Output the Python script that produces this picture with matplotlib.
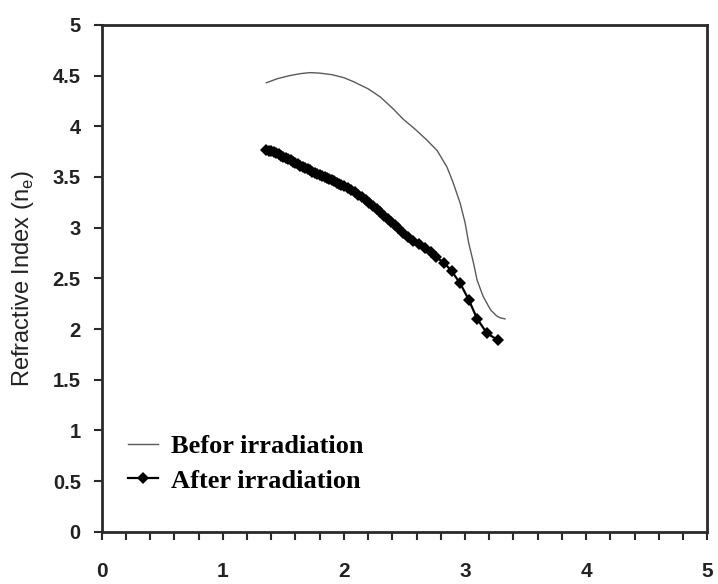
import matplotlib
matplotlib.use("Agg")
import matplotlib.pyplot as plt
from matplotlib.ticker import MultipleLocator

before_x = [1.36, 1.45, 1.55, 1.64, 1.72, 1.80, 1.90, 2.00, 2.08, 2.20, 2.30, 2.40, 2.49,
            2.58, 2.68, 2.77, 2.85, 2.90, 2.96, 3.00, 3.03, 3.07, 3.10, 3.15, 3.21, 3.26,
            3.29, 3.33]
before_y = [4.43, 4.47, 4.50, 4.52, 4.53, 4.525, 4.51, 4.48, 4.44, 4.37, 4.29, 4.18, 4.07,
            3.98, 3.87, 3.76, 3.60, 3.45, 3.24, 3.05, 2.85, 2.65, 2.48, 2.32, 2.19, 2.13,
            2.11, 2.10]

after_x = [1.36, 1.38, 1.40, 1.42, 1.44, 1.46, 1.48, 1.50, 1.52, 1.54, 1.56, 1.58, 1.60,
           1.62, 1.64, 1.66, 1.68, 1.70, 1.72, 1.74, 1.76, 1.78, 1.80, 1.82, 1.84, 1.86,
           1.88, 1.90, 1.92, 1.94, 1.96, 1.98, 2.00, 2.03, 2.06, 2.09, 2.12, 2.15, 2.18,
           2.21, 2.24, 2.27, 2.30, 2.33, 2.36, 2.39, 2.42, 2.45, 2.49, 2.53, 2.57, 2.62,
           2.67, 2.72, 2.76, 2.83, 2.89, 2.96, 3.03, 3.10, 3.18, 3.27]
after_y = [3.77, 3.76, 3.755, 3.745, 3.735, 3.725, 3.71, 3.70, 3.69, 3.675, 3.665, 3.65, 3.64,
           3.625, 3.61, 3.60, 3.585, 3.575, 3.565, 3.55, 3.54, 3.53, 3.52, 3.51, 3.50, 3.49,
           3.48, 3.47, 3.46, 3.445, 3.435, 3.42, 3.41, 3.39, 3.37, 3.35, 3.32, 3.30, 3.27,
           3.24, 3.21, 3.18, 3.15, 3.12, 3.09, 3.06, 3.03, 3.00, 2.95, 2.91, 2.87, 2.84,
           2.80, 2.76, 2.71, 2.65, 2.57, 2.45, 2.29, 2.10, 1.96, 1.89]

legend_labels = ["Befor irradiation", "After irradiation"]
y_label = "Refractive Index (n$_\\mathregular{e}$)"
y_ticks = [0, 0.5, 1, 1.5, 2, 2.5, 3, 3.5, 4, 4.5, 5]
y_tick_labels = ["0", "0.5", "1", "1.5", "2", "2.5", "3", "3.5", "4", "4.5", "5"]

fig = plt.figure(figsize=(7.18, 5.84), dpi=100)
ax = fig.add_axes([0.1416, 0.0896, 0.8435, 0.8676])

ax.plot(before_x, before_y, color="#5a5a5a", lw=1.0, label=legend_labels[0])
ax.plot(after_x, after_y, color="black", lw=1.6, marker="D", ms=6.5,
        markeredgewidth=0, label=legend_labels[1])

ax.set_xlim(0, 5)
ax.set_ylim(0, 5)
ax.xaxis.set_major_locator(MultipleLocator(1))
ax.xaxis.set_minor_locator(MultipleLocator(0.2))
ax.set_yticks(y_ticks)
ax.set_yticklabels(y_tick_labels)

for s in ax.spines.values():
    s.set_linewidth(2)
    s.set_color("#2a2a2a")

ax.tick_params(axis="x", which="major", direction="out", length=6, width=1.5,
               pad=16, labelsize=15, colors="#2a2a2a")
ax.tick_params(axis="x", which="minor", direction="out", length=6, width=1.5,
               colors="#2a2a2a")
ax.tick_params(axis="y", which="major", direction="out", length=6, width=1.5,
               pad=9, labelsize=14.5, colors="#2a2a2a")
for lab in ax.get_xticklabels() + ax.get_yticklabels():
    lab.set_fontfamily("Liberation Sans")
    lab.set_fontweight("bold")
    lab.set_color("#222222")

ax.set_ylabel(y_label, fontsize=17, family="Liberation Sans", color="#222222", labelpad=12)

leg = ax.legend(loc="center left", bbox_to_anchor=(0.004, 0.1345), frameon=False,
                prop={"family": "Liberation Serif", "weight": "bold", "size": 19},
                handlelength=1.15, handletextpad=0.5, labelspacing=0.42,
                borderpad=0.4)

fig.savefig("out.png", dpi=100)
